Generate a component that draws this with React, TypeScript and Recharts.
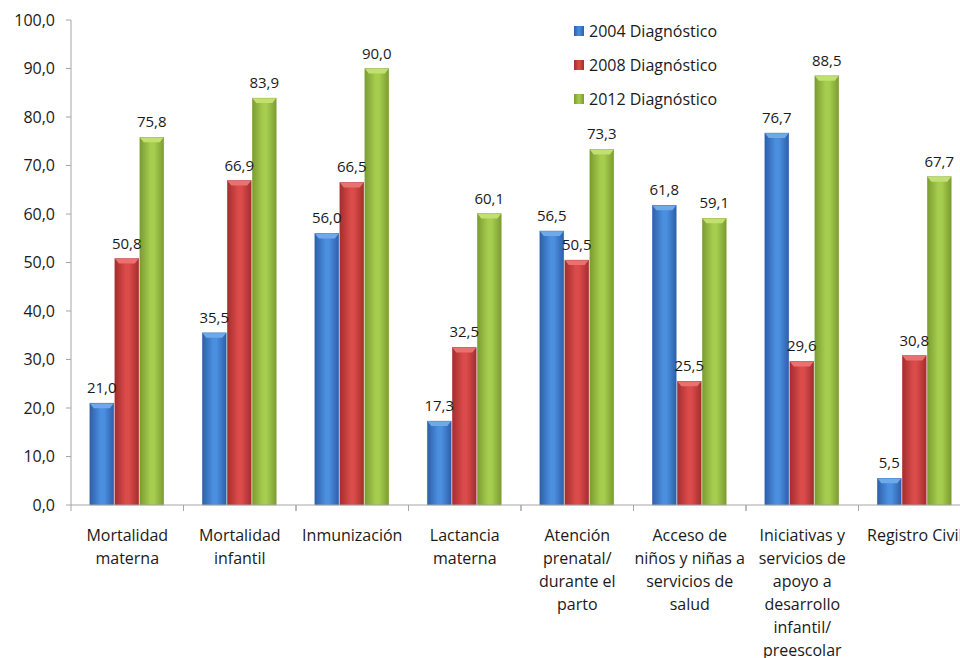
import React from 'react';
import { BarChart, Bar, XAxis, YAxis, Legend, LabelList } from 'recharts';

const categories = [
  ['Mortalidad', 'materna'],
  ['Mortalidad', 'infantil'],
  ['Inmunización'],
  ['Lactancia', 'materna'],
  ['Atención', 'prenatal/', 'durante el', 'parto'],
  ['Acceso de', 'niños y niñas a', 'servicios de', 'salud'],
  ['Iniciativas y', 'servicios de', 'apoyo a', 'desarrollo', 'infantil/', 'preescolar'],
  ['Registro Civil'],
];
const diag2004 = [21.0, 35.5, 56.0, 17.3, 56.5, 61.8, 76.7, 5.5];
const diag2008 = [50.8, 66.9, 66.5, 32.5, 50.5, 25.5, 29.6, 30.8];
const diag2012 = [75.8, 83.9, 90.0, 60.1, 73.3, 59.1, 88.5, 67.7];
const yTicks = [0, 10, 20, 30, 40, 50, 60, 70, 80, 90, 100];

const seriesInfo = [
  { key: 'd2004', name: '2004 Diagnóstico', edge: '#2d5fa9', mid: '#4b8fdf', top: '#6ea9ea' },
  { key: 'd2008', name: '2008 Diagnóstico', edge: '#a52d2e', mid: '#da4b4a', top: '#e87270' },
  { key: 'd2012', name: '2012 Diagnóstico', edge: '#7b9c31', mid: '#a7cd4f', top: '#c2e071' },
];

const data = categories.map((lines, i) => ({
  name: lines.join(' '),
  d2004: diag2004[i],
  d2008: diag2008[i],
  d2012: diag2012[i],
}));

const FONT = '"Open Sans", "Noto Sans", sans-serif';
const AXIS = '#a6a6a6';

const fmt = (v: any) => Number(v).toFixed(1).replace('.', ',');

function makeShape(idx: number) {
  return (props: any) => {
    const { x, y, width, height } = props;
    if (!height || height <= 0) return null;
    const s = seriesInfo[idx];
    const bev = Math.min(5, height / 2);
    return (
      <g>
        <rect x={x} y={y} width={width} height={height} fill={`url(#grad-${s.key})`} />
        <polygon
          points={`${x},${y} ${x + width},${y} ${x + width - 4},${y + bev} ${x + 4},${y + bev}`}
          fill={s.top}
        />
        <rect x={x} y={y} width={width} height={height} fill="none" stroke={s.edge} strokeOpacity={0.5} strokeWidth={0.6} />
      </g>
    );
  };
}

function CategoryTick(props: any) {
  const { x, y, payload, index } = props;
  const half = payload.offset || 0;
  const lines = categories[index] || [String(payload.value)];
  return (
    <g transform={`translate(${x},${y})`}>
      <line x1={-half} y1={0} x2={-half} y2={6} stroke={AXIS} />
      <line x1={half} y1={0} x2={half} y2={6} stroke={AXIS} />
      {lines.map((l: string, i: number) => (
        <text key={i} x={0} y={36 + i * 23} textAnchor="middle" fontSize={16} fontFamily={FONT} fill="#1a1a1a">
          {l}
        </text>
      ))}
    </g>
  );
}

function LegendBox() {
  return (
    <div style={{ fontFamily: FONT, fontSize: 16, color: '#1a1a1a' }}>
      {seriesInfo.map((s) => (
        <div key={s.key} style={{ display: 'flex', alignItems: 'center', height: 34 }}>
          <span
            style={{
              display: 'inline-block',
              width: 10,
              height: 10,
              marginRight: 5,
              background: `linear-gradient(to right, ${s.edge}, ${s.mid}, ${s.edge})`,
            }}
          />
          <span>{s.name}</span>
        </div>
      ))}
    </div>
  );
}

export default function App() {
  return (
    <div style={{ position: 'fixed', left: 0, top: 0, width: 960, height: 658, overflow: 'hidden', background: '#fff' }}>
      <BarChart
        width={983}
        height={658}
        data={data}
        margin={{ top: 20, right: 12, left: 8, bottom: 0 }}
        barCategoryGap="16.7%"
        barGap={1}
      >
        <defs>
          {seriesInfo.map((s) => (
            <linearGradient key={s.key} id={`grad-${s.key}`} x1="0" y1="0" x2="1" y2="0">
              <stop offset="0%" stopColor={s.edge} />
              <stop offset="45%" stopColor={s.mid} />
              <stop offset="60%" stopColor={s.mid} />
              <stop offset="100%" stopColor={s.edge} />
            </linearGradient>
          ))}
        </defs>
        <XAxis
          dataKey="name"
          height={153}
          interval={0}
          tickSize={0}
          tickMargin={0}
          tickLine={false}
          stroke={AXIS}
          tick={<CategoryTick />}
        />
        <YAxis
          width={63}
          domain={[0, 100]}
          ticks={yTicks}
          tickFormatter={fmt}
          tickSize={5}
          tickMargin={11}
          stroke={AXIS}
          tick={{ fontSize: 16, fontFamily: FONT, fill: '#1a1a1a' }}
        />
        <Legend
          layout="vertical"
          verticalAlign="middle"
          align="center"
          content={<LegendBox />}
          wrapperStyle={{ position: 'absolute', left: 574, top: 14, width: 220 }}
        />
        {seriesInfo.map((s, i) => (
          <Bar key={s.key} dataKey={s.key} name={s.name} fill={s.mid} shape={makeShape(i)} isAnimationActive={false}>
            <LabelList
              dataKey={s.key}
              position="top"
              offset={10}
              formatter={fmt}
              style={{ fontSize: 15, fontFamily: FONT, fill: '#1a1a1a' }}
            />
          </Bar>
        ))}
      </BarChart>
    </div>
  );
}
